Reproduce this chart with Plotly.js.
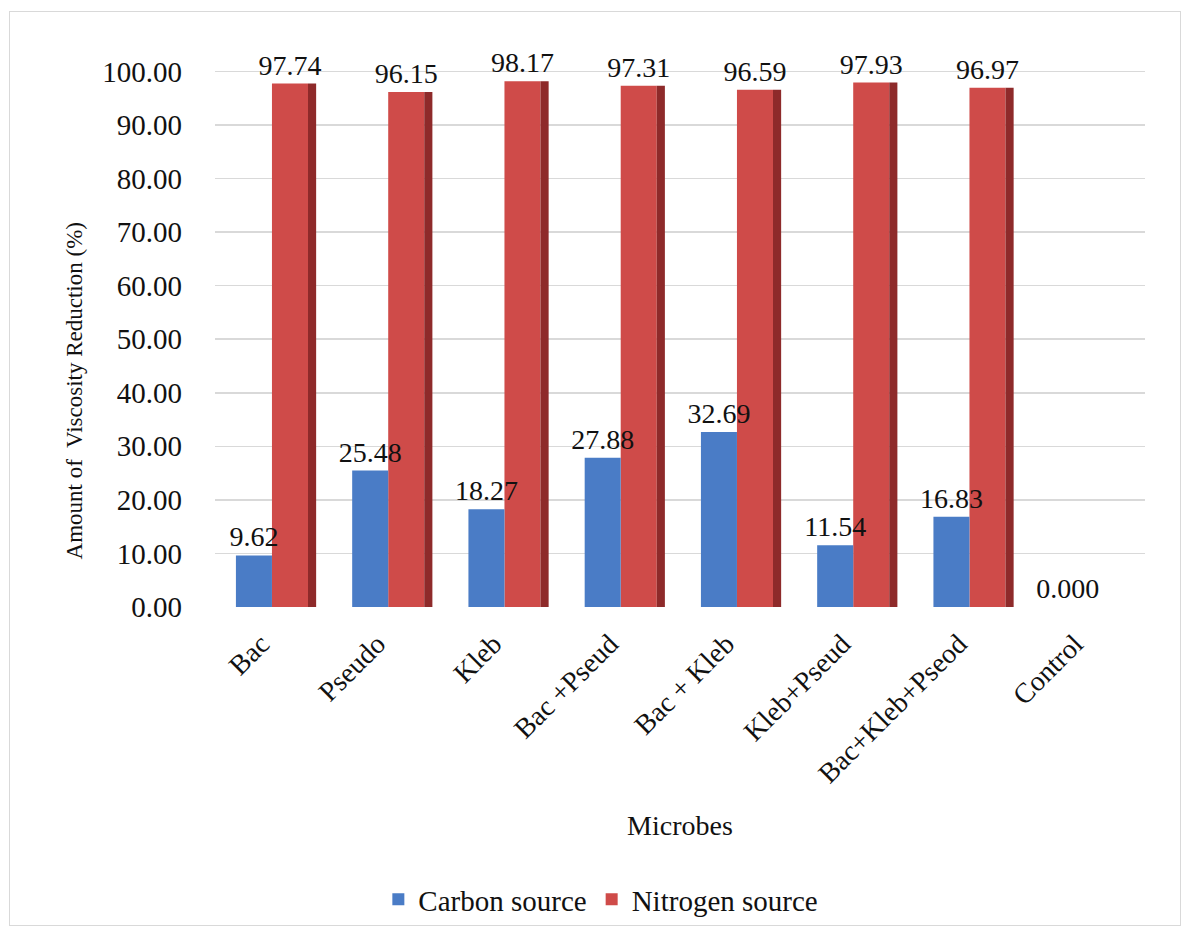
<!DOCTYPE html>
<html>
<head>
<meta charset="utf-8">
<script src="https://cdn.plot.ly/plotly-3.0.1.min.js"></script>
<style>
  html, body { margin: 0; padding: 0; background: #ffffff; }
  #chart { position: absolute; left: 10px; top: 12px; width: 1170px; height: 913px; outline: 1px solid #d9d9d9; }
</style>
</head>
<body>
<div id="chart"></div>
<script>
const categories = ["Bac", "Pseudo", "Kleb", "Bac +Pseud", "Bac + Kleb", "Kleb+Pseud", "Bac+Kleb+Pseod", "Control"];
const carbonValues = [9.62, 25.48, 18.27, 27.88, 32.69, 11.54, 16.83, 0];
const nitrogenValues = [97.74, 96.15, 98.17, 97.31, 96.59, 97.93, 96.97, 0];
const carbonLabels = ["9.62", "25.48", "18.27", "27.88", "32.69", "11.54", "16.83", "0.000"];
const nitrogenLabels = ["97.74", "96.15", "98.17", "97.31", "96.59", "97.93", "96.97", ""];
const tickValues = [0, 10, 20, 30, 40, 50, 60, 70, 80, 90, 100];
const tickLabels = ["0.00", "10.00", "20.00", "30.00", "40.00", "50.00", "60.00", "70.00", "80.00", "90.00", "100.00"];

const FONT = "Liberation Serif, Cambria, serif";
const TXT = "#111111";
const labelFont = { family: FONT, size: 28, color: TXT };

const traces = [
  {
    type: "bar", name: "Nitrogen source", x: categories, y: nitrogenValues, legendrank: 2,
    text: nitrogenLabels, textposition: "outside", textfont: labelFont, constraintext: "none",
    width: 0.31, offset: -0.01, cliponaxis: false,
    marker: { color: "#cf4b49", line: { width: 0 } }
  },
  {
    type: "bar", name: "side", x: categories, y: nitrogenValues,
    width: 0.07, offset: 0.30, showlegend: false, hoverinfo: "skip",
    marker: { color: "#8e2a2a", line: { width: 0 } }
  },
  {
    type: "bar", name: "Carbon source", x: categories, y: carbonValues, legendrank: 1,
    text: carbonLabels, textposition: "outside", textfont: labelFont, constraintext: "none",
    width: 0.31, offset: -0.32, cliponaxis: false,
    marker: { color: "#4a7cc6", line: { width: 0 } }
  }
];

const layout = {
  width: 1170, height: 913,
  margin: { l: 205, r: 35, t: 38, b: 318, autoexpand: false },
  paper_bgcolor: "rgba(0,0,0,0)",
  plot_bgcolor: "#ffffff",
  barmode: "overlay",
  font: { family: FONT, color: TXT },
  showlegend: true,
  legend: {
    orientation: "h", x: 0.505, xanchor: "center", xref: "container",
    y: 0.028, yanchor: "middle", yref: "container",
    font: { family: FONT, size: 29, color: TXT },
    itemwidth: 30
  },
  xaxis: {
    type: "category", tickangle: -45, showgrid: false, showline: false, zeroline: false,
    ticks: "", ticklabelstandoff: 14, ticklabelshift: -12,
    tickfont: { family: FONT, size: 28, color: TXT },
    title: { text: "Microbes", font: { family: FONT, size: 28, color: TXT }, standoff: 27 },
    automargin: false
  },
  yaxis: {
    range: [0, 104], tickvals: tickValues, ticktext: tickLabels,
    showgrid: true, gridcolor: "#d9d9d9", gridwidth: 1.5, zeroline: false, showline: false,
    ticks: "", ticklabelstandoff: 32,
    tickfont: { family: FONT, size: 29, color: TXT },
    automargin: false
  },
  annotations: [
    {
      text: "Amount of  Viscosity Reduction (%)", textangle: -90,
      xref: "paper", yref: "paper", x: -0.151, y: 0.388, xanchor: "center", yanchor: "middle",
      showarrow: false, font: { family: FONT, size: 23, color: TXT }
    }
  ]
};

Plotly.newPlot("chart", traces, layout, { displayModeBar: false, staticPlot: true });
</script>
</body>
</html>
